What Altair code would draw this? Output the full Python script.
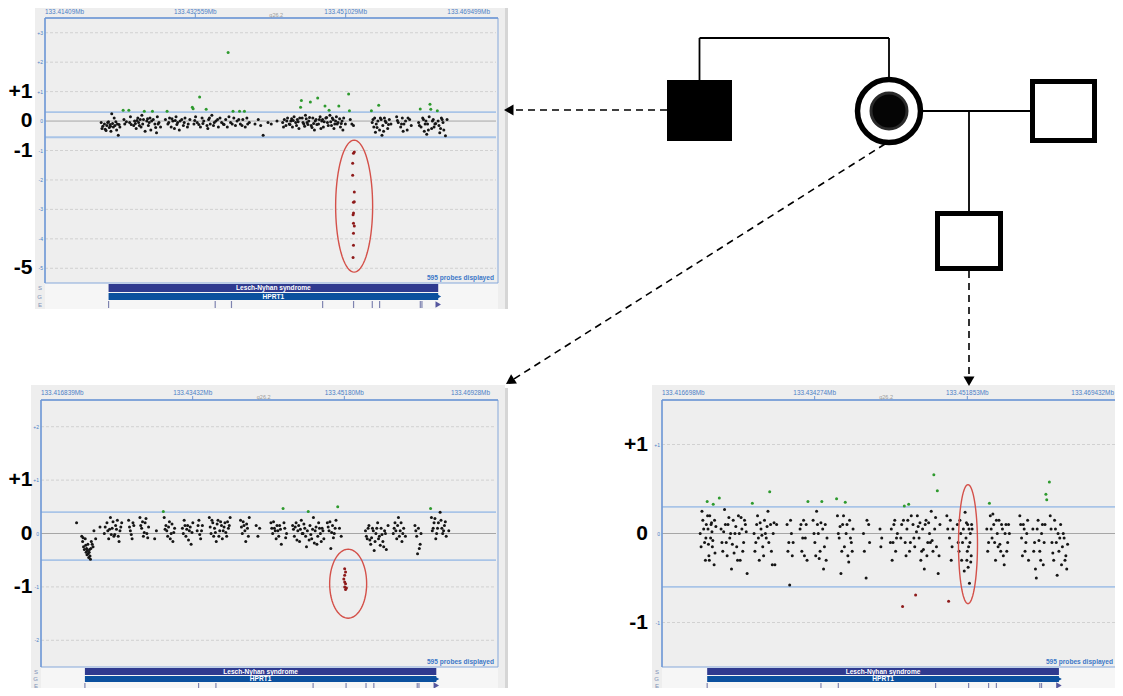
import math
import altair as alt
import numpy as np
import pandas as pd

OFF = 8  # page margin of the HTML body

# ------------------------------------------------------------------ data
# Common gene annotation (Mb)
GENE_START, GENE_END = 133.4219, 133.4624
EXONS = [133.4219, 133.4350, 133.4370, 133.4482, 133.4520, 133.4543, 133.4552, 133.4602, 133.4604]
SYNDROME = "Lesch-Nyhan syndrome"
GENE = "HPRT1"
BAND_POS = 133.4425
BAND = "q26.2"
PROBE_NOTE = "595 probes displayed"
TRACK_ROWS = ["S", "G", "E"]

# Top-left panel (affected male)
TL_START, TL_END = 133.41409, 133.469499
TL_TICKS = [133.41409, 133.432559, 133.451029, 133.469499]
TL_TICK_LABELS = ["133.41409Mb", "133.432559Mb", "133.451029Mb", "133.469499Mb"]
TL_YTICKS = [3, 2, 1, 0, -1, -2, -3, -4, -5]
TL_YLABELS = ["+3", "+2", "+1", "0", "-1", "-2", "-3", "-4", "-5"]
TL_BIG = [1, 0, -1, -5]
TL_BIG_LABELS = ["+1", "0", "-1", "-5"]
TL_THRESH = [0.3, -0.55]
TL_ELLIPSE = [133.45207, -2.89]
# (kb from window start, log ratio)
TL_PROBES = [
    (6.9, -0.05), (7.1, -0.18), (7.3, -0.1), (7.4, -0.28), (7.6, -0.15), (7.7, -0.05), (7.9, -0.22), (8.0, -0.12),
    (8.1, -0.35), (8.2, 0.25), (8.3, -0.08), (8.4, -0.2), (8.5, 0.1), (8.6, -0.15), (8.8, -0.3), (8.9, -0.1),
    (9.0, -0.48), (9.2, -0.2), (7.5, -0.32), (8.7, -0.02), (7.0, -0.25), (7.8, -0.02), (8.05, -0.18), (9.1, -0.12),
    (9.6, 0.37), (9.7, 0.05), (9.8, -0.1), (10.3, 0.37), (10.4, -0.05), (10.5, 0.15), (10.9, -0.15), (11.0, 0.0),
    (11.2, -0.25), (11.4, 0.1), (11.5, -0.05), (11.7, 0.05), (11.8, -0.2), (11.9, 0.2), (12.0, -0.1), (12.2, 0.33),
    (12.3, -0.35), (12.5, 0.0), (12.7, -0.15), (12.9, 0.1), (13.0, -0.3), (13.2, 0.33), (13.3, 0.05), (13.5, -0.1),
    (13.7, -0.4), (13.8, 0.15), (14.0, -0.05), (14.2, -0.2), (11.1, -0.08), (12.6, 0.08),
    (10.0, -0.02), (10.6, -0.12), (11.3, 0.02), (11.6, -0.15), (12.1, 0.05), (12.8, -0.05), (13.1, 0.0),
    (13.6, -0.22), (13.9, -0.1),
    (14.8, 0.05), (15.0, 0.33), (15.1, -0.1), (15.3, 0.1), (15.5, -0.2), (15.7, 0.0), (15.9, -0.25), (16.1, 0.15),
    (16.3, -0.05), (16.5, -0.3), (16.8, 0.05), (17.0, -0.15), (17.2, 0.1), (17.5, -0.2), (17.8, 0.05), (18.1, 0.47),
    (18.2, 0.42), (18.3, -0.1), (18.5, 0.15), (18.7, -0.05), (19.0, 0.82), (19.1, -0.2), (19.3, 0.1), (19.5, 0.0),
    (19.8, 0.4), (19.9, -0.15), (20.1, 0.05), (20.3, -0.1), (20.5, 0.2), (20.8, -0.05), (21.0, 0.0), (21.3, -0.2),
    (21.5, 0.1), (21.9, -0.1), (22.2, 0.05), (22.5, 2.33), (22.6, 0.15), (22.8, -0.05), (23.1, 0.33), (23.2, 0.1),
    (23.4, -0.15), (23.6, 0.0), (23.9, 0.33), (24.0, -0.1), (24.3, 0.05), (24.5, 0.33), (24.6, -0.2), (24.8, 0.1),
    (25.1, -0.05), (20.0, -0.25), (22.0, -0.12), (16.0, 0.02),
    (15.2, -0.05), (15.6, 0.08), (16.2, -0.12), (16.6, 0.0), (17.1, -0.05), (17.6, -0.1), (18.4, 0.02),
    (18.9, -0.12), (19.4, -0.08), (20.2, 0.1), (20.7, -0.15), (21.2, 0.05), (21.7, -0.05), (22.4, -0.2),
    (23.0, -0.1), (23.8, 0.05), (24.2, -0.15), (24.9, -0.1),
    (25.8, -0.1), (26.2, 0.05), (26.5, -0.15), (26.8, -0.48), (27.4, -0.05), (27.8, -0.1), (28.5, 0.0),
    (29.2, -0.05), (29.4, 0.05), (29.6, -0.15), (29.8, 0.1), (30.0, -0.1), (30.2, 0.0), (30.4, -0.2), (30.6, 0.15),
    (30.8, -0.05), (31.0, 0.05), (31.2, -0.25), (31.4, 0.47), (31.5, 0.7), (31.6, 0.1), (31.8, -0.1), (32.0, 0.2),
    (32.2, -0.05), (32.4, 0.0), (32.6, 0.65), (32.7, -0.15), (32.9, 0.1), (33.1, -0.3), (33.3, 0.05), (33.5, 0.78),
    (33.6, -0.1), (33.8, 0.15), (34.0, 0.0), (34.2, -0.2), (34.4, 0.51), (34.5, 0.1), (34.7, -0.05), (34.9, 0.37),
    (35.0, 0.2), (35.2, -0.15), (35.4, 0.05), (35.6, -0.1), (35.8, 0.15), (36.0, -0.05), (36.1, 0.51), (36.3, -0.2),
    (36.5, 0.0), (36.7, 0.1), (36.9, -0.1), (30.1, -0.12), (31.1, -0.02), (32.1, 0.08), (33.0, -0.08), (34.1, 0.05),
    (35.1, -0.02), (30.5, 0.02), (31.9, -0.18),
    (29.3, -0.2), (29.7, 0.0), (30.3, 0.08), (30.9, -0.15), (31.3, 0.1), (31.7, -0.05), (32.3, -0.12), (32.5, 0.12),
    (32.8, -0.22), (33.2, 0.0), (33.4, -0.12), (33.7, 0.05), (33.9, -0.25), (34.3, -0.02), (34.6, 0.12),
    (34.8, -0.15), (35.3, 0.1), (35.5, -0.25), (35.7, 0.0), (35.9, -0.1), (36.2, 0.08), (36.4, -0.08), (36.6, -0.3),
    (37.3, 0.92), (37.4, 0.35), (37.5, 0.05), (37.7, -0.1), (37.9, -0.15),
    (37.9, -1.09), (38.0, -1.05), (37.8, -1.43), (37.8, -1.84), (38.0, -2.41), (37.9, -2.76), (38.0, -2.74),
    (37.9, -3.12), (37.85, -3.18), (37.9, -3.47), (38.0, -3.56), (37.9, -3.81), (37.9, -4.22), (37.85, -4.63),
    (40.1, 0.35), (40.2, -0.05), (40.4, -0.2), (40.5, 0.1), (40.7, -0.1), (40.9, 0.0), (41.0, 0.54), (41.1, -0.3),
    (41.3, 0.05), (41.5, -0.15), (41.7, 0.1), (41.9, -0.05), (42.1, -0.25), (42.3, 0.05), (42.5, -0.1), (40.6, -0.38),
    (41.4, -0.48), (40.3, 0.05), (40.8, -0.22), (41.2, 0.1), (41.6, -0.35), (41.8, 0.0), (42.2, -0.12),
    (43.2, 0.15), (43.4, -0.05), (43.7, -0.2), (43.9, 0.1), (44.1, -0.1), (44.3, 0.0), (44.5, -0.3), (44.8, 0.05),
    (45.0, -0.15), (43.3, 0.02), (43.8, -0.1), (44.0, -0.35), (44.6, 0.1),
    (45.9, -0.05), (46.1, 0.41), (46.2, -0.2), (46.4, 0.1), (46.6, -0.35), (46.8, 0.0), (47.0, -0.1), (47.2, 0.15),
    (47.3, 0.57), (47.4, 0.4), (47.5, -0.25), (47.7, 0.05), (47.9, -0.1), (48.2, 0.35), (48.3, 0.0), (48.5, -0.4),
    (48.7, 0.1), (48.9, -0.05), (49.2, -0.5), (49.4, 0.05), (46.9, -0.45), (47.8, -0.2),
    (46.0, -0.15), (46.5, 0.05), (46.7, -0.1), (47.1, -0.3), (47.6, 0.0), (48.0, -0.08), (48.4, -0.15),
    (48.6, -0.25), (48.8, 0.05), (49.0, -0.3),
]

# Bottom-left panel (carrier mother)
BL_START, BL_END = 133.416839, 133.46928
BL_TICKS = [133.416839, 133.43432, 133.4518, 133.46928]
BL_TICK_LABELS = ["133.416839Mb", "133.43432Mb", "133.45180Mb", "133.46928Mb"]
BL_YTICKS = [2, 1, 0, -1, -2]
BL_YLABELS = ["+2", "+1", "0", "-1", "-2"]
BL_BIG = [1, 0, -1]
BL_BIG_LABELS = ["+1", "0", "-1"]
BL_THRESH = [0.4, -0.5]
BL_ELLIPSE = [133.45224, -0.94]
BL_PROBES = [
    (4.1, 0.2), (4.7, -0.05), (4.8, -0.15), (4.9, -0.25), (5.0, -0.3), (5.1, -0.1), (5.2, -0.35), (5.3, -0.4),
    (5.4, -0.2), (5.5, -0.45), (5.6, -0.3), (5.7, -0.48), (5.8, -0.15), (6.0, -0.25), (6.1, 0.05), (6.3, -0.1),
    (6.8, 0.12), (5.25, -0.28), (5.45, -0.38), (5.65, -0.42),
    (4.85, -0.08), (5.15, -0.22), (5.35, -0.32), (5.55, -0.35), (5.75, -0.28), (5.9, -0.2),
    (7.3, 0.0), (7.6, 0.2), (7.8, -0.1), (8.0, 0.3), (8.2, 0.1), (8.4, -0.05), (8.6, 0.15), (8.8, 0.25),
    (9.0, -0.15), (9.1, 0.05), (9.3, 0.2), (7.9, 0.08), (8.5, -0.02),
    (7.4, 0.12), (7.7, 0.05), (8.1, -0.02), (8.3, 0.22), (8.7, 0.08), (8.9, -0.05), (9.2, 0.12),
    (10.1, 0.25), (10.3, 0.05), (10.5, -0.1), (10.7, 0.15), (10.2, 0.12), (10.4, -0.02), (10.6, 0.2),
    (11.4, 0.3), (11.6, 0.1), (11.8, -0.05), (12.0, 0.2), (12.2, 0.0), (12.4, 0.12), (11.7, 0.22),
    (11.5, 0.15), (11.9, 0.02), (12.1, 0.28), (12.3, -0.08),
    (13.1, -0.1), (13.3, 0.05),
    (14.1, 0.41), (14.2, 0.3), (14.4, 0.15), (14.6, -0.05), (14.8, 0.22), (15.0, 0.0), (15.2, -0.15), (15.4, 0.1),
    (14.5, 0.05), (14.3, 0.08), (14.7, 0.12), (14.9, -0.1), (15.1, 0.18), (15.3, 0.02),
    (16.3, 0.1), (16.5, 0.25), (16.7, -0.05), (16.9, 0.15), (17.1, 0.05), (17.3, -0.2), (17.5, 0.2),
    (16.4, 0.0), (16.6, 0.15), (16.8, 0.08), (17.0, -0.12), (17.2, 0.12), (17.4, 0.02),
    (18.0, 0.05), (18.2, 0.25), (18.4, -0.1), (18.6, 0.15), (18.1, 0.15), (18.3, -0.02), (18.5, 0.05),
    (19.4, 0.3), (19.6, 0.0), (19.8, 0.2), (20.0, 0.1), (20.2, -0.15), (20.4, 0.25), (20.6, 0.05), (20.8, 0.15),
    (19.9, -0.05), (20.3, 0.18), (19.5, 0.12), (19.7, 0.25), (20.1, 0.02), (20.5, -0.05), (20.7, 0.22), (20.9, -0.1),
    (21.0, 0.05), (21.2, 0.2), (21.4, -0.05), (21.6, 0.1), (21.8, 0.3), (21.5, 0.22), (21.1, 0.12), (21.3, 0.02),
    (21.7, 0.15),
    (23.0, 0.25), (23.2, 0.0), (23.4, 0.15), (23.6, -0.15), (23.8, 0.1), (24.0, 0.3),
    (23.1, 0.12), (23.3, 0.22), (23.5, 0.05), (23.7, 0.18), (23.9, -0.05),
    (24.8, 0.15), (25.0, -0.05), (25.2, 0.1),
    (26.5, 0.2), (26.7, 0.0), (26.9, 0.1), (27.1, -0.1), (27.3, 0.05), (27.5, 0.15), (27.7, -0.2), (27.9, 0.47),
    (28.1, 0.1), (28.3, 0.0), (26.6, 0.1), (26.8, 0.22), (27.0, 0.05), (27.2, 0.15), (27.4, -0.05), (27.6, 0.08),
    (28.0, 0.2), (28.2, -0.08),
    (29.0, 0.15), (29.2, -0.05), (29.4, 0.2), (29.6, 0.05), (29.8, -0.15), (30.0, 0.25), (30.2, 0.0), (30.4, 0.1),
    (30.6, -0.25), (30.8, 0.41), (31.0, 0.15), (31.2, -0.1), (31.4, 0.3), (31.6, 0.05), (31.8, -0.2), (32.0, 0.2),
    (32.2, 0.0), (32.4, 0.1), (32.6, -0.1), (29.5, -0.12), (30.5, -0.05), (31.5, -0.18), (29.9, 0.08), (31.1, -0.02),
    (29.1, 0.08), (29.3, 0.12), (29.7, 0.15), (30.1, 0.0), (30.3, 0.18), (30.7, 0.05), (30.9, -0.12), (31.3, 0.08),
    (31.7, 0.12), (31.9, -0.05), (32.1, 0.1), (32.3, -0.15), (32.5, 0.05),
    (33.0, 0.2), (33.2, 0.05), (33.4, -0.28), (33.6, 0.15), (33.8, 0.0), (34.0, 0.25), (34.2, 0.5), (34.4, 0.1),
    (34.6, -0.05), (33.1, 0.12), (33.3, 0.22), (33.5, 0.02), (33.7, -0.08), (33.9, 0.1),
    (35.0, -0.66), (35.1, -0.72), (35.0, -0.78), (34.9, -0.85), (35.0, -0.91), (35.1, -0.94), (35.0, -1.0),
    (35.1, -1.05), (35.2, -1.02),
    (37.4, 0.05), (37.6, -0.1), (37.8, 0.15), (38.0, -0.2), (38.2, 0.1), (38.4, -0.32), (38.6, 0.0), (38.8, 0.2),
    (39.0, -0.05), (39.2, 0.1), (39.4, -0.15), (39.6, 0.05), (39.8, -0.3), (40.0, 0.15), (38.1, -0.08), (39.1, -0.22),
    (37.5, -0.05), (37.7, 0.1), (37.9, -0.12), (38.3, 0.05), (38.5, -0.15), (38.7, 0.1), (38.9, -0.1),
    (39.3, -0.02), (39.5, -0.25), (39.7, 0.0),
    (40.6, 0.0), (40.8, 0.2), (41.0, -0.1), (41.2, 0.3), (41.4, 0.05), (41.6, -0.15), (41.8, 0.1), (42.0, -0.05),
    (40.7, 0.1), (40.9, 0.05), (41.1, 0.15), (41.3, -0.05), (41.5, 0.2), (41.7, 0.0),
    (43.1, 0.15), (43.3, -0.05), (43.5, 0.1), (43.7, -0.2), (43.4, -0.38), (43.6, -0.28), (43.2, 0.05), (43.8, 0.0),
    (44.9, 0.47), (45.0, 0.3), (45.1, 0.05), (45.3, 0.2), (45.5, -0.1), (45.7, 0.1), (46.0, 0.4), (46.1, 0.25),
    (46.3, 0.0), (46.5, 0.15), (46.7, -0.05), (47.0, 0.05), (45.2, 0.1), (45.4, 0.28), (45.6, 0.0), (45.8, 0.2),
    (46.2, 0.1), (46.4, 0.05), (46.6, 0.22),
]

# Bottom-right panel (son)
BR_START, BR_END = 133.416698, 133.469432
BR_TICKS = [133.416698, 133.434274, 133.451853, 133.469432]
BR_TICK_LABELS = ["133.416698Mb", "133.434274Mb", "133.451853Mb", "133.469432Mb"]
BR_YTICKS = [1, 0, -1]
BR_YLABELS = ["+1", "0", "-1"]
BR_BIG = [1, 0, -1]
BR_BIG_LABELS = ["+1", "0", "-1"]
BR_THRESH = [0.3, -0.6]
BR_ELLIPSE = [133.45193, -0.12]
BR_PROBES = [
    (5.2, 0.36), (5.9, 0.33), (4.4, 0.0), (4.6, 0.25), (4.7, 0.15), (4.9, -0.1), (5.0, -0.3), (5.1, 0.1),
    (5.3, 0.05), (5.4, -0.25), (5.5, 0.2), (5.6, -0.05), (5.7, 0.12), (5.8, -0.15), (6.0, -0.35), (6.1, -0.22),
    (6.2, 0.08), (5.35, -0.12), (5.75, 0.02),
    (4.5, -0.15), (4.8, 0.05), (5.05, -0.05), (5.25, 0.2), (5.45, -0.3), (5.65, 0.1), (5.85, -0.08), (6.05, 0.15),
    (6.6, 0.4), (6.8, 0.05), (7.0, -0.2), (7.2, 0.27), (7.4, -0.1), (7.6, 0.1), (7.8, -0.05), (8.0, -0.4),
    (8.2, 0.15), (8.4, 0.0), (8.6, -0.15), (8.8, 0.2), (9.0, -0.3), (9.2, 0.05), (9.4, -0.1), (9.6, 0.1),
    (9.8, -0.45), (7.1, 0.02), (8.3, -0.22), (9.1, 0.18),
    (6.9, -0.1), (7.3, 0.1), (7.5, -0.25), (7.7, 0.18), (7.9, 0.0), (8.1, -0.12), (8.5, 0.08), (8.7, -0.3),
    (8.9, 0.0), (9.3, -0.2), (9.5, 0.15), (9.7, 0.02),
    (10.4, 0.34), (10.6, 0.0), (10.8, -0.1), (11.0, 0.2), (11.2, -0.3), (11.4, 0.05), (11.6, -0.15), (11.8, 0.15),
    (12.0, -0.05), (12.2, 0.25), (12.4, 0.47), (12.6, -0.2), (12.8, 0.0), (13.0, -0.35), (13.2, 0.1), (11.5, -0.02),
    (12.1, 0.08), (10.7, -0.2), (10.9, 0.1), (11.1, -0.05), (11.3, 0.12), (11.7, -0.25), (11.9, 0.0), (12.3, -0.1),
    (12.5, 0.1), (12.7, -0.35), (12.9, 0.12),
    (14.4, 0.1), (14.6, -0.1), (14.7, -0.58), (14.9, 0.0), (15.0, -0.25), (14.5, -0.2), (14.8, 0.15), (15.1, -0.1),
    (15.9, 0.05), (16.1, -0.2), (16.3, 0.15), (16.5, -0.05), (16.7, -0.3), (16.8, 0.36),
    (16.0, 0.1), (16.2, -0.05), (16.4, -0.25), (16.6, 0.1),
    (17.4, 0.15), (17.6, -0.1), (17.8, 0.25), (18.0, 0.0), (18.2, -0.2), (18.4, 0.36), (18.5, 0.05), (18.6, -0.4),
    (18.8, 0.1), (19.0, -0.05), (18.1, -0.28), (17.5, 0.0), (17.7, -0.25), (17.9, 0.1), (18.3, 0.12),
    (18.7, -0.15), (18.9, -0.3),
    (20.1, 0.39), (20.2, 0.2), (20.4, -0.05), (20.6, -0.45), (20.8, 0.1), (21.0, -0.15), (21.1, 0.35), (21.2, 0.0),
    (21.4, -0.25), (21.6, 0.15), (21.8, -0.1), (22.0, 0.05), (20.5, 0.08), (21.5, -0.32),
    (20.3, 0.0), (20.7, -0.2), (20.9, 0.2), (21.3, 0.1), (21.7, -0.05), (21.9, -0.2),
    (23.2, 0.0), (23.5, -0.5), (23.8, 0.1), (23.3, -0.2), (23.6, 0.15), (23.9, -0.1),
    (25.1, 0.05), (25.3, -0.05), (25.2, -0.15),
    (26.3, -0.1), (26.5, -0.3), (26.7, 0.1), (26.9, -0.2), (27.1, 0.0),
    (26.4, 0.05), (26.6, -0.1), (26.8, 0.15), (27.0, -0.05),
    (27.5, -0.05), (27.7, -0.82), (27.8, 0.15), (27.9, 0.31), (28.0, -0.1), (28.2, 0.05), (28.4, 0.33), (28.5, -0.2),
    (28.7, 0.2), (27.6, 0.1), (28.1, -0.25), (28.3, 0.15), (28.6, -0.1),
    (28.9, 0.1), (29.1, -0.15), (29.2, -0.69), (29.4, 0.2), (29.6, -0.05), (29.8, -0.3), (30.0, 0.05), (30.2, -0.4),
    (30.4, 0.15), (30.6, -0.1), (30.8, 0.0), (31.0, 0.25), (31.2, -0.2), (31.3, 0.66), (31.4, 0.05), (31.6, -0.15),
    (31.7, 0.48), (31.8, -0.45), (32.0, 0.1), (29.5, 0.08), (30.1, -0.18), (30.7, 0.12), (31.1, -0.08),
    (29.0, -0.05), (29.3, 0.02), (29.7, 0.12), (29.9, -0.2), (30.3, 0.1), (30.5, -0.25), (30.9, -0.1),
    (31.5, 0.18), (31.9, -0.25),
    (32.8, 0.2), (33.0, -0.76), (33.1, -0.05), (33.3, -0.3), (33.5, 0.05), (32.9, 0.05), (33.2, 0.15), (33.4, -0.15),
    (34.0, 0.1), (34.2, -0.2), (34.4, 0.0), (34.6, -0.1), (34.9, 0.24), (35.0, -0.05), (35.1, -0.3), (35.2, 0.1),
    (35.3, -0.15), (35.4, -0.56), (35.5, 0.0), (35.6, -0.25), (35.7, 0.05), (35.25, -0.38),
    (34.1, -0.1), (34.3, 0.15), (34.5, -0.3), (34.7, 0.05), (34.8, -0.42), (35.05, 0.12), (35.15, -0.2),
    (35.35, 0.05), (35.45, -0.1), (35.55, -0.32), (35.65, 0.1),
    (37.4, 0.05), (37.6, -0.1), (37.7, 0.34), (37.8, 0.2), (38.0, -0.05), (38.2, 0.1), (38.4, -0.3), (38.6, 0.0),
    (38.8, 0.15), (39.0, -0.2), (39.2, 0.05), (39.4, -0.35), (39.6, 0.1), (39.8, -0.1), (40.0, 0.0), (38.1, 0.22),
    (38.9, -0.12), (37.5, -0.2), (37.9, 0.05), (38.3, -0.1), (38.5, 0.15), (38.7, -0.15), (39.1, 0.1),
    (39.3, -0.25), (39.5, 0.0), (39.7, -0.2), (39.9, 0.1),
    (41.2, 0.2), (41.4, -0.05), (41.6, 0.1), (41.8, -0.2), (42.0, 0.0), (42.2, -0.3),
    (41.3, 0.1), (41.5, -0.25), (41.7, 0.05), (41.9, -0.1), (42.1, 0.15),
    (42.7, 0.05), (42.9, -0.1), (43.0, -0.4), (43.1, -0.5), (43.3, 0.15), (43.5, -0.2), (43.7, 0.0), (43.9, -0.35),
    (44.1, 0.1), (44.2, 0.44), (44.3, 0.38), (43.4, -0.08), (42.8, -0.2), (43.2, 0.05), (43.6, -0.3), (43.8, 0.1),
    (44.0, -0.1),
    (44.6, 0.58), (44.7, 0.2), (44.9, -0.1), (45.1, -0.3), (45.3, 0.05), (45.5, -0.47), (45.7, -0.2), (45.9, 0.1),
    (46.1, -0.15), (46.3, -0.05), (46.5, -0.25), (46.6, -0.4), (45.0, -0.22), (45.6, 0.0),
    (44.8, 0.05), (45.2, 0.15), (45.4, -0.1), (45.8, -0.05), (46.0, -0.35), (46.2, 0.0), (46.4, -0.3), (46.7, -0.12),
]

# Pedigree (diagram coordinates, page pixels)
PED_FILLED_SQUARES = [(667, 732, 80, 141)]
PED_OPEN_SQUARES = [(1032.5, 1094.5, 81.5, 140.5), (937.5, 1000.5, 213.5, 268.5)]
PED_CARRIER = [(889, 111)]
PED_LINES = [(699.5, 80, 699.5, 38), (699.5, 38, 889, 38), (889, 38, 889, 80),
             (922, 111, 1032, 111), (969, 111, 969, 213)]
PED_ARROWS = [(667, 110, 504, 110), (885, 144, 506, 384), (969, 271, 969, 386)]


# ------------------------------------------------------------------ helpers
def P(v):
    return v - OFF


FONT = "Liberation Sans"
BLUE_TXT = "#4d7fc6"
PAGE_R, PAGE_B = 1115, 688  # drawable limits of the page


def ellipse_path(aspect, n=72):
    pts = []
    for i in range(n):
        t = 2 * math.pi * i / n
        pts.append(f"{aspect * math.sin(t):.4f},{-math.cos(t):.4f}")
    return "M" + " L".join(pts) + " Z"


def panel(sp):
    xs = alt.Scale(domain=[sp["x0"], sp["x1"]], range=[P(sp["fl"]), P(sp["xr"])], nice=False, zero=False)
    ys = alt.Scale(domain=[sp["ymin"], sp["ymax"]], range=[P(sp["fb"]), P(sp["ft"])], nice=False, zero=False)

    def X(f):
        return alt.X(f"{f}:Q", scale=xs, axis=None)

    def Y(f):
        return alt.Y(f"{f}:Q", scale=ys, axis=None)

    one = pd.DataFrame({"k": [0]})
    layers = []
    fl, fr, ft, fb = sp["fl"], sp["fr"], sp["ft"], sp["fb"]
    bx0, bx1, by0, by1 = sp["bg"]
    rS, rG, rE = sp["rows"]  # (top, bottom) offsets below the frame for each track row

    # panel background + shadow
    layers.append(alt.Chart(one).mark_rect(color="#d6d6d6").encode(
        x=alt.value(P(bx1)), x2=alt.value(P(bx1 + 3)), y=alt.value(P(by0 + 3)), y2=alt.value(P(by1))))
    layers.append(alt.Chart(one).mark_rect(color="#eeeeee").encode(
        x=alt.value(P(bx0)), x2=alt.value(P(bx1)), y=alt.value(P(by0)), y2=alt.value(P(by1))))
    # track area
    layers.append(alt.Chart(one).mark_rect(color="#f6f6f6").encode(
        x=alt.value(P(fl)), x2=alt.value(P(fr)), y=alt.value(P(fb)), y2=alt.value(P(fb + rE[1] + 1))))

    # gridlines
    grid = pd.DataFrame({"v": [v for v in sp["yticks"] if v != 0]})
    grid["a"], grid["b"] = sp["x0"], sp["x1"]
    layers.append(alt.Chart(grid).mark_rule(color="#c9c9c9", strokeDash=[3, 2], strokeWidth=0.8).encode(
        x=X("a"), x2="b", y=Y("v")))
    zero = pd.DataFrame({"v": [0], "a": [sp["x0"]], "b": [sp["x1"]]})
    layers.append(alt.Chart(zero).mark_rule(color="#a6a6a6", strokeWidth=1).encode(x=X("a"), x2="b", y=Y("v")))
    th = pd.DataFrame({"v": sp["thresh"]})
    th["a"], th["b"] = sp["x0"], sp["x1"]
    layers.append(alt.Chart(th).mark_rule(color="#a9c4e7", strokeWidth=1.8).encode(x=X("a"), x2="b", y=Y("v")))

    # frame
    layers.append(alt.Chart(one).mark_rect(fillOpacity=0, stroke="#86a8da", strokeWidth=1).encode(
        x=alt.value(P(fl)), x2=alt.value(P(fr)), y=alt.value(P(ft)), y2=alt.value(P(fb))))
    layers.append(alt.Chart(one).mark_rule(color="#6f98d6", strokeWidth=1.6).encode(
        x=alt.value(P(fl)), x2=alt.value(P(fr)), y=alt.value(P(ft))))
    layers.append(alt.Chart(one).mark_rule(color="#6f98d6", strokeWidth=1.4).encode(
        x=alt.value(P(fl)), y=alt.value(P(ft)), y2=alt.value(P(fb))))

    # probes
    pts = pd.DataFrame(sp["probes"], columns=["kb", "v"])
    pts["pos"] = sp["x0"] + pts["kb"] / 1000.0
    hi, lo = sp["thresh"]
    groups = [(pts[pts["v"] > hi], "#2e9a2e"), (pts[pts["v"] < lo], "#8e1a1a"),
              (pts[(pts["v"] <= hi) & (pts["v"] >= lo)], "#151515")]
    for df, col in groups:
        layers.append(alt.Chart(df).mark_circle(color=col, size=9, opacity=1).encode(x=X("pos"), y=Y("v")))

    # red ellipse
    ex, ey = sp["ellipse"]
    hw, hh = sp["ellipse_px"]
    el = pd.DataFrame({"x": [ex], "y": [ey]})
    layers.append(alt.Chart(el).mark_point(shape=ellipse_path(hw / hh), size=4 * hh * hh, filled=False,
                                           color="#d4514a", strokeWidth=1.4, opacity=1).encode(x=X("x"), y=Y("y")))

    # header labels & ticks
    hdr = pd.DataFrame({"t": sp["ticks"], "lab": sp["tick_labels"]})
    hy = sp["header_y"]
    for sub, al, dx in ((hdr.iloc[:1], "left", 0), (hdr.iloc[1:-1], "center", 0), (hdr.iloc[-1:], "right", -6)):
        layers.append(alt.Chart(sub).mark_text(font=FONT, fontSize=6.4, color=BLUE_TXT, align=al, dx=dx,
                                               baseline="middle").encode(x=X("t"), y=alt.value(P(hy)), text="lab:N"))
    layers.append(alt.Chart(hdr.iloc[1:-1]).mark_rule(color="#6f98d6", strokeWidth=1).encode(
        x=X("t"), y=alt.value(P(ft - 4)), y2=alt.value(P(ft))))
    band = pd.DataFrame({"t": [BAND_POS], "lab": [BAND]})
    layers.append(alt.Chart(band).mark_text(font=FONT, fontSize=5.5, color="#9a9a9a", baseline="middle").encode(
        x=X("t"), y=alt.value(P(ft - 3)), text="lab:N"))

    # small y tick labels
    yl = pd.DataFrame({"v": sp["yticks"], "lab": sp["ylabels"]})
    layers.append(alt.Chart(yl).mark_text(font=FONT, fontSize=5, color=BLUE_TXT, align="right",
                                          baseline="middle").encode(x=alt.value(P(fl - 2)), y=Y("v"), text="lab:N"))
    # big labels
    bl = pd.DataFrame({"v": sp["big"], "lab": sp["big_labels"]})
    layers.append(alt.Chart(bl).mark_text(font=FONT, fontSize=21, fontWeight="bold", color="#000000",
                                          align="right", baseline="middle").encode(
        x=alt.value(P(sp["big_x"])), y=Y("v"), text="lab:N"))
    # probes note
    note = pd.DataFrame({"lab": [PROBE_NOTE]})
    layers.append(alt.Chart(note).mark_text(font=FONT, fontSize=6.6, fontWeight="bold", color="#3d78c8",
                                            align="right", baseline="middle").encode(
        x=alt.value(P(min(fr - 4, PAGE_R - 2))), y=alt.value(P(fb - 5)), text="lab:N"))

    # tracks
    gene = pd.DataFrame({"a": [GENE_START], "b": [GENE_END], "m": [(GENE_START + GENE_END) / 2],
                         "s": [SYNDROME], "g": [GENE]})
    layers.append(alt.Chart(gene).mark_rect(color="#2f3a8f").encode(
        x=X("a"), x2="b", y=alt.value(P(fb + rS[0])), y2=alt.value(P(fb + rS[1]))))
    layers.append(alt.Chart(gene).mark_rect(color="#0b509e").encode(
        x=X("a"), x2="b", y=alt.value(P(fb + rG[0])), y2=alt.value(P(fb + rG[1]))))
    gmid = (rG[0] + rG[1]) / 2
    smid = (rS[0] + rS[1]) / 2
    emid = (rE[0] + rE[1]) / 2
    layers.append(alt.Chart(gene).mark_point(shape="triangle-right", filled=True, size=45, color="#0b509e",
                                             opacity=1).encode(x=X("b"), y=alt.value(P(fb + gmid))))
    layers.append(alt.Chart(gene).mark_text(font=FONT, fontSize=6.6, fontWeight="bold", color="white",
                                            baseline="middle").encode(x=X("m"), y=alt.value(P(fb + smid + 0.3)),
                                                                      text="s:N"))
    layers.append(alt.Chart(gene).mark_text(font=FONT, fontSize=6.6, fontWeight="bold", color="white",
                                            baseline="middle").encode(x=X("m"), y=alt.value(P(fb + gmid + 0.3)),
                                                                      text="g:N"))
    ex_df = pd.DataFrame({"e": EXONS})
    layers.append(alt.Chart(ex_df).mark_rule(color="#7f84b0", strokeWidth=1.2).encode(
        x=X("e"), y=alt.value(P(fb + rE[0])), y2=alt.value(P(fb + rE[1]))))
    layers.append(alt.Chart(gene).mark_point(shape="triangle-right", filled=True, size=40, color="#55579e",
                                             opacity=1).encode(x=X("b"), y=alt.value(P(fb + emid))))
    rows = pd.DataFrame({"lab": TRACK_ROWS, "yy": [P(fb + smid), P(fb + gmid), P(fb + emid)]})
    for _, r in rows.iterrows():
        layers.append(alt.Chart(pd.DataFrame({"lab": [r["lab"]]})).mark_text(
            font=FONT, fontSize=6, color="#8092b8", align="right", baseline="middle").encode(
            x=alt.value(P(fl - 3)), y=alt.value(r["yy"]), text="lab:N"))
    return alt.layer(*layers)


panels = [
    dict(x0=TL_START, x1=TL_END, fl=45, xr=496, fr=498, ft=18, fb=283, ymin=-5.5, ymax=3.5,
         bg=(35, 505, 4, 309), yticks=TL_YTICKS, ylabels=TL_YLABELS, big=TL_BIG, big_labels=TL_BIG_LABELS,
         big_x=32.5, thresh=TL_THRESH, probes=TL_PROBES, ellipse=TL_ELLIPSE, ellipse_px=(18.5, 66),
         ticks=TL_TICKS, tick_labels=TL_TICK_LABELS, header_y=11.5, rows=((1, 9), (10, 17), (18, 25))),
    dict(x0=BL_START, x1=BL_END, fl=41, xr=496, fr=498, ft=400, fb=667, ymin=-2.5, ymax=2.5,
         bg=(31, 505, 385, 700), yticks=BL_YTICKS, ylabels=BL_YLABELS, big=BL_BIG, big_labels=BL_BIG_LABELS,
         big_x=32.5, thresh=BL_THRESH, probes=BL_PROBES, ellipse=BL_ELLIPSE, ellipse_px=(18.5, 34.5),
         ticks=BL_TICKS, tick_labels=BL_TICK_LABELS, header_y=392.5, rows=((1, 8), (9, 15), (16, 21))),
    dict(x0=BR_START, x1=BR_END, fl=662, xr=1120, fr=1121, ft=400, fb=667, ymin=-1.5, ymax=1.5,
         bg=(652, 1126, 385, 700), yticks=BR_YTICKS, ylabels=BR_YLABELS, big=BR_BIG, big_labels=BR_BIG_LABELS,
         big_x=648, thresh=BR_THRESH, probes=BR_PROBES, ellipse=BR_ELLIPSE, ellipse_px=(9.5, 59.5),
         ticks=BR_TICKS, tick_labels=BR_TICK_LABELS, header_y=392.5, rows=((1, 8), (9, 15), (16, 21))),
]

# ------------------------------------------------------------------ pedigree diagram
dxs = alt.Scale(domain=[0, 1123], range=[P(0), P(1123)], nice=False, zero=False)
dys = alt.Scale(domain=[0, 696], range=[P(0), P(696)], nice=False, zero=False)


def DX(f):
    return alt.X(f"{f}:Q", scale=dxs, axis=None)


def DY(f):
    return alt.Y(f"{f}:Q", scale=dys, axis=None)


dl = []
sq_f = pd.DataFrame(PED_FILLED_SQUARES, columns=["x0", "x1", "y0", "y1"])
dl.append(alt.Chart(sq_f).mark_rect(color="#000000").encode(x=DX("x0"), x2="x1", y=DY("y0"), y2="y1"))
sq_o = pd.DataFrame(PED_OPEN_SQUARES, columns=["x0", "x1", "y0", "y1"])
dl.append(alt.Chart(sq_o).mark_rect(fill="white", stroke="#000000", strokeWidth=5).encode(
    x=DX("x0"), x2="x1", y=DY("y0"), y2="y1"))
lines = pd.DataFrame(PED_LINES, columns=["x0", "y0", "x1", "y1"])
dl.append(alt.Chart(lines).mark_rule(color="#000000", strokeWidth=1.8).encode(
    x=DX("x0"), x2="x1", y=DY("y0"), y2="y1"))
car = pd.DataFrame(PED_CARRIER, columns=["x", "y"])
dl.append(alt.Chart(car).mark_point(shape="circle", size=63 * 63, fill="white", stroke="#000000",
                                    strokeWidth=5.5, opacity=1, fillOpacity=1).encode(x=DX("x"), y=DY("y")))
dl.append(alt.Chart(car).mark_point(shape="circle", size=36 * 36, fill="#050505", stroke="#2a2a2a",
                                    strokeWidth=3, opacity=1, fillOpacity=1).encode(x=DX("x"), y=DY("y")))

arr = pd.DataFrame(PED_ARROWS, columns=["sx", "sy", "tx", "ty"])
L = np.hypot(arr["tx"] - arr["sx"], arr["ty"] - arr["sy"])
ux, uy = (arr["tx"] - arr["sx"]) / L, (arr["ty"] - arr["sy"]) / L
HEAD = 120
hh_ = 0.866 * math.sqrt(HEAD) / 2
arr["ex"], arr["ey"] = arr["tx"] - ux * (2 * hh_), arr["ty"] - uy * (2 * hh_)
arr["cx"], arr["cy"] = arr["tx"] - ux * hh_, arr["ty"] - uy * hh_
arr["ang"] = (np.degrees(np.arctan2(ux, -uy)) + 360) % 360
dl.append(alt.Chart(arr).mark_rule(color="#000000", strokeWidth=1.6, strokeDash=[7, 5]).encode(
    x=DX("sx"), x2="ex", y=DY("sy"), y2="ey"))
dl.append(alt.Chart(arr).mark_point(shape="triangle-up", filled=True, size=HEAD, color="#000000",
                                    opacity=1).encode(x=DX("cx"), y=DY("cy"), angle=alt.Angle("ang:Q", scale=None)))
diagram = alt.layer(*dl)

chart = alt.layer(*[panel(s) for s in panels], diagram).resolve_scale(
    x="independent", y="independent"
).properties(
    width=PAGE_R - OFF, height=PAGE_B - OFF, padding=0, autosize=alt.AutoSizeParams(type="none"),
    background="white"
).configure_view(stroke=None)

chart.save("out.html", embed_options={"renderer": "svg", "actions": False})
